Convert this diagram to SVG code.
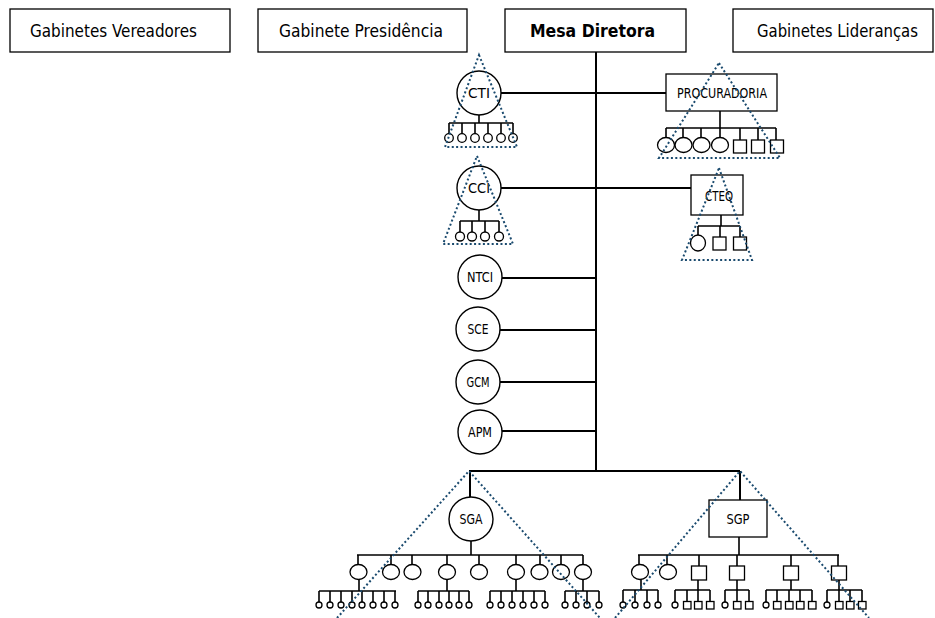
<svg xmlns="http://www.w3.org/2000/svg" width="935" height="618" viewBox="0 0 935 618">
<style>
.bg{fill:#ffffff}
.box{fill:#ffffff;stroke:#000;stroke-width:1.3}
.nd{fill:#ffffff;stroke:#000;stroke-width:1.4}
.lf{fill:#ffffff;stroke:#000;stroke-width:1.3}
.ln{fill:none;stroke:#000;stroke-width:2}
.st{fill:none;stroke:#000;stroke-width:1.6}
.dot{fill:none;stroke:#1a4a6e;stroke-width:2;stroke-dasharray:2 2.4}
.t{font-family:"DejaVu Sans Condensed","Liberation Sans Narrow","DejaVu Sans",sans-serif;font-stretch:condensed;fill:#000}
.big{font-size:18px}
.bold{font-size:18px;font-weight:bold}
.sm{font-size:14px;text-anchor:middle}
</style>
<rect class="bg" x="0" y="0" width="935" height="618"/>

<g id="connectors">
  <path class="ln" d="M596,52 V471"/>
  <path class="ln" d="M501,93 H666"/>
  <path class="ln" d="M501,188 H691"/>
  <path class="ln" d="M502,278 H596 M500,330 H596 M500,382 H596 M502,431 H596"/>
  <path class="ln" d="M469,471 H740"/>
  <path class="st" d="M479,115 V123 M449,123 H513 M449,123 V134 M462,123 V134 M475,123 V134 M488,123 V134 M501,123 V134 M513,123 V134"/>
  <path class="st" d="M479,210 V221 M460,221 H499 M460,221 V232 M472,221 V232 M485,221 V232 M499,221 V232"/>
  <path class="st" d="M720,111 V128 M666,128 H776 M666,128 V137.5 M683,128 V137.5 M701,128 V137.5 M720,128 V137.5 M740,128 V140 M758,128 V140 M776,128 V140"/>
  <path class="st" d="M721,215 V226 M698,226 H740 M698,226 V235 M720,226 V237 M740,226 V237"/>
  <path class="ln" d="M470,471 V497"/>
  <path class="st" d="M471,541 V555 M357,555 H583 M358,555 V565 M391,555 V565 M412,555 V565 M447,555 V565 M479,555 V565 M516,555 V565 M540,555 V565 M561,555 V565 M583,555 V565"/>
  <path class="st" d="M359,579 V591 M319,591 H396 M319,591 V602 M330,591 V602 M341,591 V602 M352,591 V602 M362,591 V602 M373,591 V602 M384,591 V602 M395,591 V602"/>
  <path class="st" d="M447,579 V591 M418,591 H469 M418,591 V602 M428,591 V602 M439,591 V602 M449,591 V602 M459,591 V602 M469,591 V602"/>
  <path class="st" d="M516,579 V591 M490,591 H545 M490,591 V602 M501,591 V602 M512,591 V602 M523,591 V602 M534,591 V602 M545,591 V602"/>
  <path class="st" d="M583,579 V591 M565,591 H599 M565,591 V602 M576,591 V602 M587,591 V602 M599,591 V602"/>
  <path class="ln" d="M740,471 V500"/>
  <path class="st" d="M739,537 V555 M638,555 H839 M639,555 V565 M667,555 V565 M699,555 V566 M737,555 V566 M791,555 V566 M838,555 V566"/>
  <path class="st" d="M641,579 V590 M623,590 H658 M623,590 V602 M635,590 V602 M647,590 V602 M658,590 V602"/>
  <path class="st" d="M698,580 V590 M675,590 H710 M675,590 V602 M687,590 V601.5 M698,590 V601.5 M710,590 V601.5"/>
  <path class="st" d="M737,580 V590 M725,590 H749 M725,590 V602 M737,590 V601.5 M749,590 V601.5"/>
  <path class="st" d="M791,580 V590 M766,590 H812 M766,590 V602 M777,590 V601.5 M789,590 V601.5 M800,590 V601.5 M812,590 V601.5"/>
  <path class="st" d="M839,580 V590 M827,590 H862 M827,590 V602 M839,590 V601.5 M850,590 V601.5 M862,590 V601.5"/>
</g>

<g id="gabinetes-vereadores">
  <rect class="box" x="10" y="9" width="220" height="43"/>
  <text class="t big" x="30" y="37" textLength="167" lengthAdjust="spacingAndGlyphs">Gabinetes Vereadores</text>
</g>
<g id="gabinete-presidencia">
  <rect class="box" x="258" y="9" width="209" height="43"/>
  <text class="t big" x="279" y="37" textLength="164" lengthAdjust="spacingAndGlyphs">Gabinete Presidência</text>
</g>
<g id="mesa-diretora">
  <rect class="box" x="505" y="9" width="181" height="43"/>
  <text class="t bold" x="530" y="37" textLength="125" lengthAdjust="spacingAndGlyphs">Mesa Diretora</text>
</g>
<g id="gabinetes-liderancas">
  <rect class="box" x="733" y="9" width="200" height="43"/>
  <text class="t big" x="757" y="37" textLength="161" lengthAdjust="spacingAndGlyphs">Gabinetes Lideranças</text>
</g>

<g id="cti">
  <circle class="nd" cx="479" cy="93" r="22"/>
  <text class="t sm" x="479" y="98" textLength="22" lengthAdjust="spacingAndGlyphs">CTI</text>
  <circle class="lf" cx="449" cy="138" r="4.3"/><circle class="lf" cx="462" cy="138" r="4.3"/><circle class="lf" cx="475" cy="138" r="4.3"/>
  <circle class="lf" cx="488" cy="138" r="4.3"/><circle class="lf" cx="501" cy="138" r="4.3"/><circle class="lf" cx="513" cy="138" r="4.3"/>
</g>
<g id="cci">
  <circle class="nd" cx="479" cy="188" r="22"/>
  <text class="t sm" x="479" y="193" textLength="22" lengthAdjust="spacingAndGlyphs">CCI</text>
  <circle class="lf" cx="460" cy="236.5" r="4.5"/><circle class="lf" cx="472" cy="236.5" r="4.5"/>
  <circle class="lf" cx="485" cy="236.5" r="4.5"/><circle class="lf" cx="499" cy="236.5" r="4.5"/>
</g>
<g id="procuradoria">
  <rect class="box" x="666" y="74" width="111" height="37"/>
  <text class="t sm" x="722" y="98" textLength="90" lengthAdjust="spacingAndGlyphs">PROCURADORIA</text>
  <ellipse class="lf" cx="666" cy="145" rx="8.5" ry="7.5"/><ellipse class="lf" cx="683.5" cy="145" rx="8.5" ry="7.5"/>
  <ellipse class="lf" cx="701.5" cy="145" rx="8.5" ry="7.5"/><ellipse class="lf" cx="720" cy="145" rx="8.5" ry="7.5"/>
  <rect class="lf" x="733.5" y="140" width="13" height="13"/><rect class="lf" x="751.5" y="140" width="13" height="13"/><rect class="lf" x="770.5" y="140" width="13" height="13"/>
</g>
<g id="cteq">
  <rect class="box" x="691" y="175" width="52" height="40"/>
  <text class="t sm" x="719" y="201" textLength="28" lengthAdjust="spacingAndGlyphs">CTEQ</text>
  <ellipse class="lf" cx="698" cy="243" rx="7.5" ry="8"/>
  <rect class="lf" x="713" y="237" width="13" height="13"/><rect class="lf" x="733.5" y="237" width="13" height="13"/>
</g>
<g id="ntci">
  <circle class="nd" cx="480" cy="277" r="22"/>
  <text class="t sm" x="480" y="282" textLength="26" lengthAdjust="spacingAndGlyphs">NTCI</text>
</g>
<g id="sce">
  <circle class="nd" cx="478" cy="329" r="22"/>
  <text class="t sm" x="478" y="334" textLength="21" lengthAdjust="spacingAndGlyphs">SCE</text>
</g>
<g id="gcm">
  <circle class="nd" cx="478" cy="382" r="22"/>
  <text class="t sm" x="478" y="387" textLength="23" lengthAdjust="spacingAndGlyphs">GCM</text>
</g>
<g id="apm">
  <circle class="nd" cx="480" cy="432" r="22"/>
  <text class="t sm" x="480" y="437" textLength="24" lengthAdjust="spacingAndGlyphs">APM</text>
</g>

<g id="sga">
  <circle class="nd" cx="471" cy="519" r="22"/>
  <text class="t sm" x="471" y="524" textLength="23" lengthAdjust="spacingAndGlyphs">SGA</text>
  <ellipse class="lf" cx="358.5" cy="572" rx="8.5" ry="7.5"/><ellipse class="lf" cx="391" cy="572" rx="8.5" ry="7.5"/>
  <ellipse class="lf" cx="412.5" cy="572" rx="8.5" ry="7.5"/><ellipse class="lf" cx="447" cy="572" rx="8.5" ry="7.5"/>
  <ellipse class="lf" cx="479" cy="572" rx="8.5" ry="7.5"/><ellipse class="lf" cx="516" cy="572" rx="8.5" ry="7.5"/>
  <ellipse class="lf" cx="539.5" cy="572" rx="8.5" ry="7.5"/><ellipse class="lf" cx="561" cy="572" rx="8.5" ry="7.5"/>
  <ellipse class="lf" cx="583" cy="572" rx="8.5" ry="7.5"/>
  <g>
    <circle class="lf" cx="319" cy="605" r="3"/><circle class="lf" cx="330" cy="605" r="3"/><circle class="lf" cx="341" cy="605" r="3"/><circle class="lf" cx="352" cy="605" r="3"/>
    <circle class="lf" cx="362" cy="605" r="3"/><circle class="lf" cx="373" cy="605" r="3"/><circle class="lf" cx="384" cy="605" r="3"/><circle class="lf" cx="395" cy="605" r="3"/>
    <circle class="lf" cx="418" cy="605" r="3"/><circle class="lf" cx="428" cy="605" r="3"/><circle class="lf" cx="439" cy="605" r="3"/>
    <circle class="lf" cx="449" cy="605" r="3"/><circle class="lf" cx="459" cy="605" r="3"/><circle class="lf" cx="469" cy="605" r="3"/>
    <circle class="lf" cx="490" cy="605" r="3"/><circle class="lf" cx="501" cy="605" r="3"/><circle class="lf" cx="512" cy="605" r="3"/>
    <circle class="lf" cx="523" cy="605" r="3"/><circle class="lf" cx="534" cy="605" r="3"/><circle class="lf" cx="545" cy="605" r="3"/>
    <circle class="lf" cx="565" cy="605" r="3"/><circle class="lf" cx="576" cy="605" r="3"/><circle class="lf" cx="587" cy="605" r="3"/><circle class="lf" cx="599" cy="605" r="3"/>
  </g>
</g>

<g id="sgp">
  <rect class="box" x="709" y="500" width="58" height="37"/>
  <text class="t sm" x="738" y="524" textLength="23" lengthAdjust="spacingAndGlyphs">SGP</text>
  <ellipse class="lf" cx="640" cy="572" rx="8.5" ry="7.5"/><ellipse class="lf" cx="668" cy="572" rx="8.5" ry="7.5"/>
  <rect class="lf" x="691.5" y="566" width="15" height="14"/><rect class="lf" x="729.5" y="566" width="15" height="14"/>
  <rect class="lf" x="783.5" y="566" width="15" height="14"/><rect class="lf" x="831.5" y="566" width="15" height="14"/>
  <g>
    <circle class="lf" cx="623" cy="605" r="3"/><circle class="lf" cx="635" cy="605" r="3"/><circle class="lf" cx="647" cy="605" r="3"/><circle class="lf" cx="658" cy="605" r="3"/>
    <circle class="lf" cx="675" cy="605" r="3"/>
    <rect class="lf" x="683.5" y="601.5" width="7.5" height="7.5"/><rect class="lf" x="694.5" y="601.5" width="7.5" height="7.5"/><rect class="lf" x="706.5" y="601.5" width="7.5" height="7.5"/>
    <circle class="lf" cx="725" cy="605" r="3"/>
    <rect class="lf" x="733.5" y="601.5" width="7.5" height="7.5"/><rect class="lf" x="745.5" y="601.5" width="7.5" height="7.5"/>
    <circle class="lf" cx="766" cy="605" r="3"/>
    <rect class="lf" x="773.5" y="601.5" width="7.5" height="7.5"/><rect class="lf" x="785.5" y="601.5" width="7.5" height="7.5"/>
    <rect class="lf" x="796.5" y="601.5" width="7.5" height="7.5"/><rect class="lf" x="808.5" y="601.5" width="7.5" height="7.5"/>
    <circle class="lf" cx="827" cy="605" r="3"/>
    <rect class="lf" x="835.5" y="601.5" width="7.5" height="7.5"/><rect class="lf" x="846.5" y="601.5" width="7.5" height="7.5"/><rect class="lf" x="858.5" y="601.5" width="7.5" height="7.5"/>
  </g>
</g>

<g id="scopes">
  <polygon class="dot" points="479,55 517,147 445,147"/>
  <polygon class="dot" points="477,156 513,244 443,244"/>
  <polygon class="dot" points="719,63 780,158 659,158"/>
  <polygon class="dot" points="719,168 752,260 682,260"/>
  <path class="dot" d="M337,618 L469,471 L600,618"/>
  <path class="dot" d="M615,618 L740,471 L869,618"/>
</g>
</svg>
